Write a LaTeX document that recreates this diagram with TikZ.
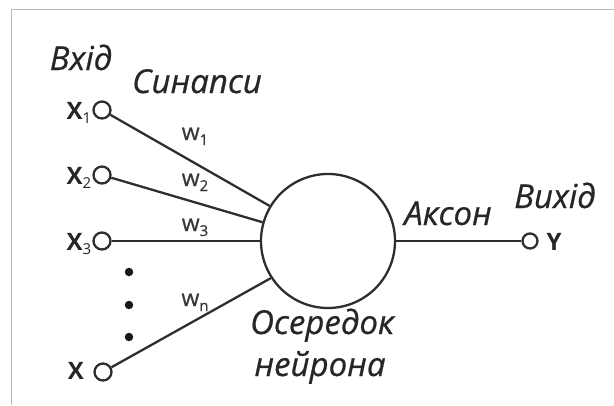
\documentclass[tikz,border=0pt]{standalone}
\usepackage{fontspec}
\setmainfont{Open Sans}
\newfontfamily\capfont{Open Sans}[FakeBold=0.6]
\begin{document}
\begin{tikzpicture}[x=1pt,y=-1pt,
  ink/.style={draw=black!82, line width=2.3pt},
  inpin/.style={circle, ink, minimum size=17pt, inner sep=0pt},
  cell/.style={circle, ink, minimum size=134pt, inner sep=0pt},
  tag/.style={font=\capfont\fontsize{33}{36}\selectfont\itshape, text=black!85, inner sep=0pt, anchor=base},
  var/.style={font=\fontsize{24}{26}\selectfont\bfseries, text=black!85, inner sep=0pt, anchor=base},
  wt/.style={font=\capfont\fontsize{23}{25}\selectfont, text=black!78, inner sep=0pt, anchor=base},
  dotmark/.style={circle, fill=black!90, minimum size=8.5pt, inner sep=0pt}
]
\useasboundingbox (0,0) rectangle (614,405);
% frame
\draw[black!28, line width=1pt] (11,405) -- (11,9.5) -- (614,9.5);

% neuron body and pins
\node[cell] (soma) at (328,241) {};
\node[inpin] (x1) at (102,110) {};
\node[inpin] (x2) at (102,175) {};
\node[inpin] (x3) at (102,241) {};
\node[inpin] (xn) at (103,372) {};
\node[inpin, minimum size=15pt] (out) at (530,241) {};

% synapse lines
\draw[ink] (x1) -- (soma.149);
\draw[ink] (x2) -- (soma.164);
\draw[ink] (x3) -- (soma.180);
\draw[ink] (xn) -- (soma.213);
% axon
\draw[ink] (soma) -- (out);

% ellipsis dots
\node[dotmark] (d1) at (129,272) {};
\node[dotmark] (d2) at (129,305) {};
\node[dotmark] (d3) at (129,337) {};

% input labels
\node[var] (lx1) at (79,119) {X\raisebox{-4pt}{\fontsize{15}{15}\selectfont\mdseries 1}};
\node[var] (lx2) at (79,184) {X\raisebox{-4pt}{\fontsize{15}{15}\selectfont\mdseries 2}};
\node[var] (lx3) at (79,250) {X\raisebox{-4pt}{\fontsize{15}{15}\selectfont\mdseries 3}};
\node[var] (lxn) at (76,379) {X};
\node[var] (ly) at (554,250) {Y};

% weights
\node[wt] (w1) at (195,140) {w\raisebox{-5pt}{\fontsize{15}{15}\selectfont 1}};
\node[wt] (w2) at (195,186) {w\raisebox{-5pt}{\fontsize{15}{15}\selectfont 2}};
\node[wt] (w3) at (195,231) {w\raisebox{-5pt}{\fontsize{15}{15}\selectfont 3}};
\node[wt] (wn) at (195,306) {w\raisebox{-5pt}{\fontsize{15}{15}\selectfont n}};

% captions
\node[tag] (tin) at (81,70) {Вхід};
\node[tag] (tsyn) at (197,93) {Синапси};
\node[tag] (tax) at (448,225) {Аксон};
\node[tag] (tout) at (555,208) {Вихід};
\node[tag] (tcore1) at (322,334) {Осередок};
\node[tag] (tcore2) at (320,376) {нейрона};
\end{tikzpicture}
\end{document}
